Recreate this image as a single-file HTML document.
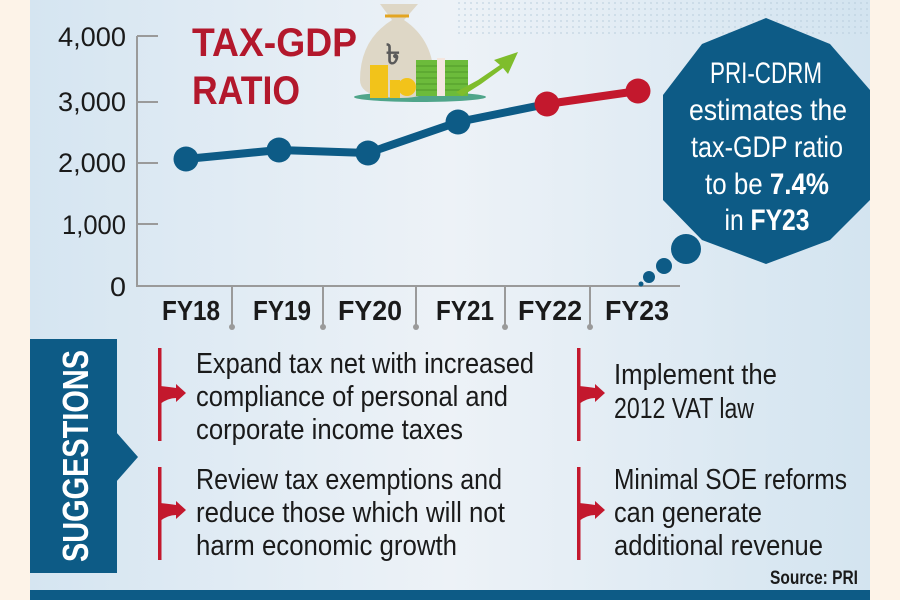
<!DOCTYPE html>
<html><head><meta charset="utf-8"><style>
html,body{margin:0;padding:0;background:#fdf3e8;}
svg{display:block;font-family:"Liberation Sans",sans-serif;}
</style></head><body>
<svg width="900" height="600" viewBox="0 0 900 600" xmlns="http://www.w3.org/2000/svg">
<defs>
<linearGradient id="bg" x1="0" x2="1" y1="0" y2="0">
<stop offset="0" stop-color="#d5e5f1"/><stop offset="0.5" stop-color="#edf2f7"/><stop offset="1" stop-color="#d3e4f0"/>
</linearGradient>
<pattern id="dots" width="6" height="6" patternUnits="userSpaceOnUse"><circle cx="3" cy="3" r="1" fill="#b6cbdb"/></pattern>
</defs>
<rect x="0" y="0" width="900" height="600" fill="#fdf3e8"/>
<rect x="30" y="0" width="840" height="600" fill="url(#bg)"/>
<rect x="455" y="0" width="415" height="36" fill="url(#dots)" opacity="0.6"/>
<rect x="30" y="590" width="840" height="10" fill="#0d5b86"/>

<g stroke="#9a9a9a" stroke-width="2" fill="none">
<path d="M137 36 V286 H680"/>
<path d="M137 36 H158 M137 102 H158 M137 163 H158 M137 224 H158"/>
<path d="M232 286 V326 M323 286 V326 M416 286 V326 M505 286 V326 M590 286 V326"/>
</g>
<g fill="#9a9a9a"><circle cx="232" cy="327" r="3"/><circle cx="323" cy="327" r="3"/><circle cx="416" cy="327" r="3"/><circle cx="505" cy="327" r="3"/><circle cx="590" cy="327" r="3"/></g>
<g font-size="27" fill="#1a1a1a" text-anchor="end">
<text x="126" y="46" textLength="68" lengthAdjust="spacingAndGlyphs">4,000</text>
<text x="126" y="111" textLength="68" lengthAdjust="spacingAndGlyphs">3,000</text>
<text x="126" y="172" textLength="68" lengthAdjust="spacingAndGlyphs">2,000</text>
<text x="126" y="234" textLength="64" lengthAdjust="spacingAndGlyphs">1,000</text>
<text x="126" y="296" textLength="16" lengthAdjust="spacingAndGlyphs">0</text>
</g>
<g font-size="28" font-weight="bold" fill="#1a1a1a">
<text x="162" y="320" textLength="58" lengthAdjust="spacingAndGlyphs">FY18</text>
<text x="253" y="320" textLength="58" lengthAdjust="spacingAndGlyphs">FY19</text>
<text x="338" y="320" textLength="64" lengthAdjust="spacingAndGlyphs">FY20</text>
<text x="436" y="320" textLength="58" lengthAdjust="spacingAndGlyphs">FY21</text>
<text x="518" y="320" textLength="64" lengthAdjust="spacingAndGlyphs">FY22</text>
<text x="605" y="320" textLength="64" lengthAdjust="spacingAndGlyphs">FY23</text>
</g>

<g font-size="40" font-weight="bold" fill="#b3182c">
<text x="192" y="56" textLength="165" lengthAdjust="spacingAndGlyphs">TAX-GDP</text>
<text x="192" y="104" textLength="108" lengthAdjust="spacingAndGlyphs">RATIO</text>
</g>

<ellipse cx="420" cy="97" rx="66" ry="5" fill="#4fa58a"/>
<path d="M380 4 H418 L404 20 Q434 40 434 80 Q434 98 400 98 Q360 98 360 80 Q360 40 392 20 Z" fill="#ded7c6"/>
<path d="M385 16 H409" stroke="#e3a521" stroke-width="3"/>
<text x="386" y="64" font-size="28" fill="#5a5a5a" font-weight="bold">৳</text>
<rect x="370" y="65" width="18" height="33" fill="#f2c31a"/>
<rect x="390" y="80" width="10" height="18" fill="#f2c31a"/>
<circle cx="407" cy="87" r="9" fill="#f2c31a"/>
<rect x="416" y="60" width="52" height="36" fill="#6cbb3b"/>
<g stroke="#4f9a2a" stroke-width="1"><path d="M416 66H468M416 72H468M416 78H468M416 84H468M416 90H468"/></g>
<rect x="437" y="58" width="8" height="38" fill="#f4e6e0"/>
<path d="M456 92 L478 80 L500 65 L494 60 L518 52 L508 74 L503 68 L481 84 L462 96 Z" fill="#7fbd2c"/>

<polyline points="186,159 279,150 368,153 458,122 547,104" fill="none" stroke="#0d5b86" stroke-width="8" stroke-linejoin="round"/>
<polyline points="547,104 638,91" fill="none" stroke="#c3182d" stroke-width="8"/>
<g fill="#0d5b86"><circle cx="186" cy="159" r="12.5"/><circle cx="279" cy="150" r="12.5"/><circle cx="368" cy="153" r="12.5"/><circle cx="458" cy="122" r="12.5"/></g>
<g fill="#c3182d"><circle cx="547" cy="104" r="12.5"/><circle cx="638" cy="91" r="12.5"/></g>

<polygon points="766,18 830,44 870,90 870,200 830,240 766,264 702,240 663,200 663,95 702,44" fill="#0d5b86"/>
<g fill="#0d5b86"><circle cx="686" cy="249" r="15"/><circle cx="664" cy="266" r="8"/><circle cx="649" cy="277" r="6"/><circle cx="641" cy="284" r="2.5"/></g>
<g font-size="30" fill="#ffffff" text-anchor="middle">
<text x="766" y="83" textLength="112" lengthAdjust="spacingAndGlyphs">PRI-CDRM</text>
<text x="768" y="120" textLength="158" lengthAdjust="spacingAndGlyphs">estimates the</text>
<text x="767" y="157" textLength="152" lengthAdjust="spacingAndGlyphs">tax-GDP ratio</text>
<text x="767" y="194" textLength="124" lengthAdjust="spacingAndGlyphs">to be <tspan font-weight="bold">7.4%</tspan></text>
<text x="767" y="230" textLength="85" lengthAdjust="spacingAndGlyphs">in <tspan font-weight="bold">FY23</tspan></text>
</g>

<rect x="30" y="339" width="87" height="234" fill="#0d5b86"/>
<polygon points="116,432 138,457 116,482" fill="#0d5b86"/>
<text transform="translate(88,456) rotate(-90)" text-anchor="middle" font-size="36" font-weight="bold" fill="#ffffff" textLength="212" lengthAdjust="spacingAndGlyphs">SUGGESTIONS</text>

<g fill="#c3182d">
<rect x="158" y="348" width="3.5" height="93"/><rect x="158" y="467" width="3.5" height="93"/>
<rect x="577" y="348" width="3.5" height="93"/><rect x="577" y="467" width="3.5" height="93"/>
<path d="M160 386 Q170 387 176 388 V384 L186 393 L176 402 V398 Q168 398 160 404 Z"/>
<path d="M160 503 Q170 504 176 505 V501 L186 510 L176 519 V515 Q168 515 160 521 Z"/>
<path d="M579 386 Q589 387 595 388 V384 L605 393 L595 402 V398 Q587 398 579 404 Z"/>
<path d="M579 503 Q589 504 595 505 V501 L605 510 L595 519 V515 Q587 515 579 521 Z"/>
</g>
<g font-size="29" fill="#1a1a1a">
<text x="196" y="373" textLength="338" lengthAdjust="spacingAndGlyphs">Expand tax net with increased</text>
<text x="196" y="406" textLength="312" lengthAdjust="spacingAndGlyphs">compliance of personal and</text>
<text x="196" y="439" textLength="267" lengthAdjust="spacingAndGlyphs">corporate income taxes</text>
<text x="196" y="489" textLength="306" lengthAdjust="spacingAndGlyphs">Review tax exemptions and</text>
<text x="196" y="522" textLength="309" lengthAdjust="spacingAndGlyphs">reduce those which will not</text>
<text x="196" y="555" textLength="261" lengthAdjust="spacingAndGlyphs">harm economic growth</text>
<text x="614" y="384" textLength="163" lengthAdjust="spacingAndGlyphs">Implement the</text>
<text x="614" y="418" textLength="140" lengthAdjust="spacingAndGlyphs">2012 VAT law</text>
<text x="614" y="489" textLength="233" lengthAdjust="spacingAndGlyphs">Minimal SOE reforms</text>
<text x="614" y="522" textLength="148" lengthAdjust="spacingAndGlyphs">can generate</text>
<text x="614" y="555" textLength="209" lengthAdjust="spacingAndGlyphs">additional revenue</text>
</g>
<text x="770" y="584" font-size="19" font-weight="bold" fill="#1a1a1a" textLength="88" lengthAdjust="spacingAndGlyphs">Source: PRI</text>
</svg>
</body></html>
